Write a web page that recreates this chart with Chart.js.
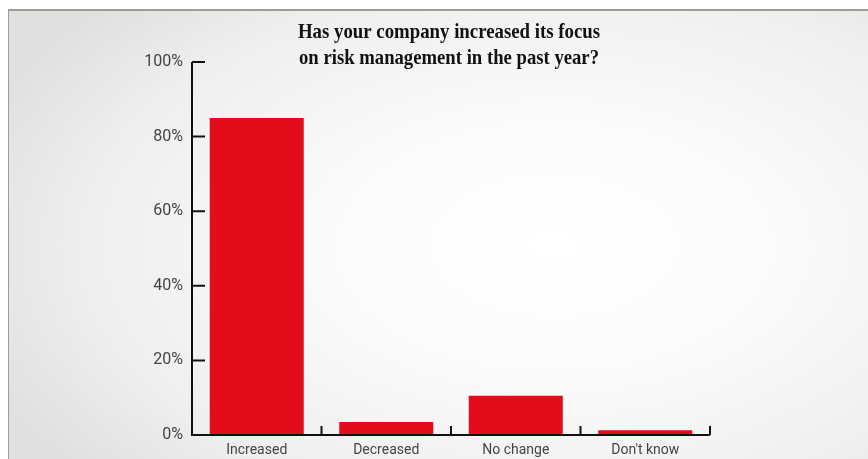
<!DOCTYPE html>
<html>
<head>
<meta charset="utf-8">
<script src="https://cdn.jsdelivr.net/npm/chart.js@4.4.1/dist/chart.umd.min.js"></script>
<style>
    html, body { margin: 0; padding: 0; background: #fff; overflow: hidden; }
    #wrap { position: relative; width: 868px; height: 459px; }
    #panel {
        position: absolute; left: 8px; top: 9px; width: 880px; height: 470px;
        border-top: 2px solid #9d9d96; border-left: 1px solid #9d9d96;
        background: radial-gradient(ellipse 70% 75% at 62% 50%, #ffffff 0%, #fbfbfb 35%, #efefef 75%, #e0e0e0 100%);
    }
    #chartBox { position: absolute; left: 0; top: 0; width: 868px; height: 459px; }
</style>
</head>
<body>
<div id="wrap">
    <div id="panel"></div>
    <div id="chartBox"><canvas id="riskChart"></canvas></div>
</div>
<script>
// Datos de la encuesta
const categorias = ['Increased', 'Decreased', 'No change', "Don't know"];
const porcentajes = [85, 3.5, 10.5, 1.3];
const tituloLineas = ['Has your company increased its focus', 'on risk management in the past year?'];

const rojo = '#e30c1a';

// Ejes dibujados a mano: marcas hacia dentro del área del gráfico
const ejesPlugin = {
    id: 'ejes',
    afterDatasetsDraw(chart) {
        const { ctx, chartArea, scales } = chart;
        const x = scales.x, y = scales.y;
        ctx.save();
        ctx.strokeStyle = '#111';
        ctx.lineWidth = 2;
        ctx.beginPath();
        ctx.moveTo(chartArea.left, chartArea.top);
        ctx.lineTo(chartArea.left, chartArea.bottom);
        ctx.lineTo(chartArea.right, chartArea.bottom);
        // marcas del eje Y
        y.ticks.forEach(t => {
            const py = y.getPixelForValue(t.value);
            ctx.moveTo(chartArea.left, py);
            ctx.lineTo(chartArea.left + 13, py);
        });
        // marcas del eje X entre categorías
        const ancho = (chartArea.right - chartArea.left) / categorias.length;
        for (let i = 1; i <= categorias.length; i++) {
            const px = x.getPixelForValue(i - 1) + ancho / 2;
            ctx.moveTo(px, chartArea.bottom);
            ctx.lineTo(px, chartArea.bottom - 9);
        }
        ctx.stroke();
        ctx.restore();
    }
};

// Título en dos líneas
const tituloPlugin = {
    id: 'titulo',
    afterDraw(chart) {
        const { ctx } = chart;
        ctx.save();
        ctx.fillStyle = '#111';
        ctx.font = 'bold 21px "Liberation Serif"';
        ctx.textAlign = 'center';
        ctx.textBaseline = 'alphabetic';
        ctx.fillText(tituloLineas[0], 449, 38, 302);
        ctx.fillText(tituloLineas[1], 449, 64, 300);
        ctx.restore();
    }
};

function crearGrafica() {
    const ctx = document.getElementById('riskChart').getContext('2d');
    new Chart(ctx, {
        type: 'bar',
        data: {
            labels: categorias,
            datasets: [{
                data: porcentajes,
                backgroundColor: rojo,
                borderWidth: 0,
                barPercentage: 0.726,
                categoryPercentage: 1
            }]
        },
        options: {
            responsive: true,
            maintainAspectRatio: false,
            animation: false,
            layout: { padding: { top: 62, right: 158, bottom: 0, left: 0 } },
            plugins: {
                legend: { display: false },
                title: { display: false },
                tooltip: { enabled: false }
            },
            scales: {
                x: {
                    offset: true,
                    grid: { display: false, drawTicks: false },
                    border: { display: false },
                    ticks: {
                        color: '#444',
                        padding: 7,
                        font: { family: 'Roboto', size: 14 }
                    },
                    afterFit(scale) { scale.height = 24; }
                },
                y: {
                    min: 0,
                    max: 100,
                    grid: { display: false, drawTicks: false },
                    border: { display: false },
                    ticks: {
                        stepSize: 20,
                        color: '#444',
                        padding: 9,
                        font: { family: 'Roboto', size: 16 },
                        callback: v => v + '%'
                    },
                    afterFit(scale) { scale.width = 192; }
                }
            }
        },
        plugins: [ejesPlugin, tituloPlugin]
    });
}

document.addEventListener('DOMContentLoaded', crearGrafica);
</script>
</body>
</html>
